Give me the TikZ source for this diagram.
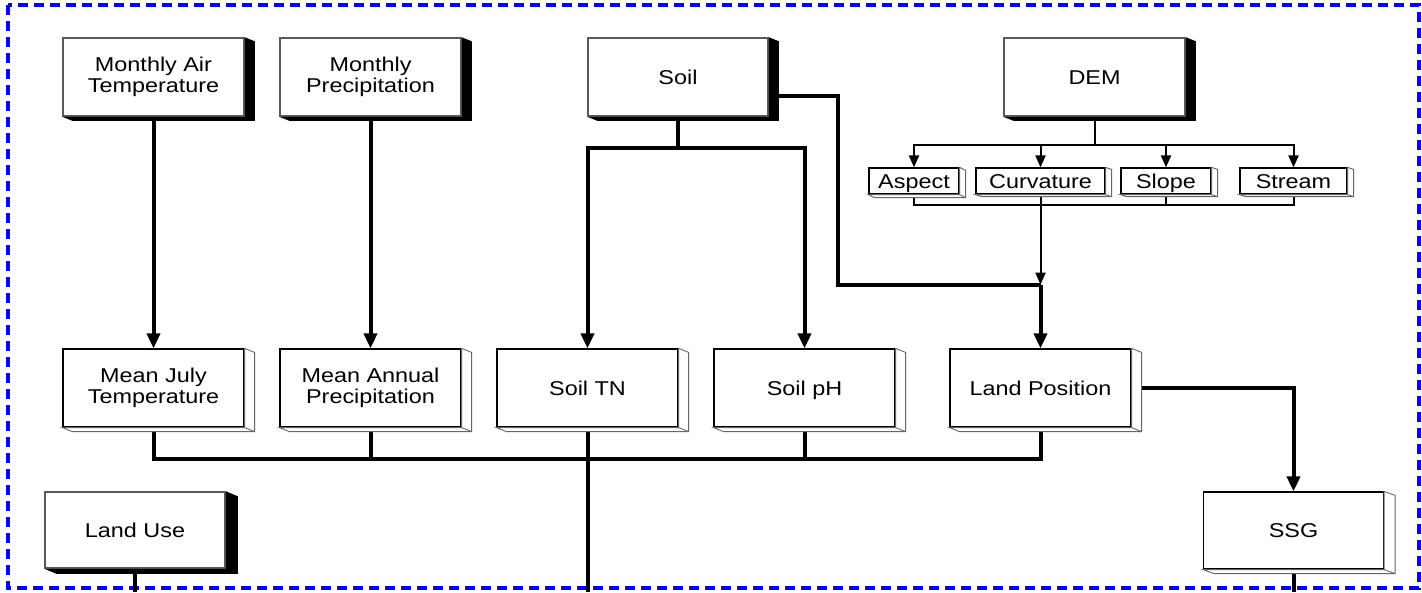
\documentclass[tikz,border=0pt]{standalone}
\usepackage{fontspec}
\setmainfont[FakeStretch=1.17]{Liberation Sans}
\usetikzlibrary{calc,arrows.meta}
\newcommand\blackext[3]{%
  \fill[black] (#1.north east) -- ++(#2,#3) -- ($(#1.south east)+(#2,#3)$) -- ($(#1.south west)+(#2,#3)$) -- (#1.south west) -- (#1.south east) -- cycle;}
\newcommand\whiteext[3]{%
  \filldraw[fill=white, draw=black!60, line width=0.9] (#1.north east) -- ++(#2,#3) -- ($(#1.south east)+(#2,#3)$) -- ($(#1.south west)+(#2,#3)$) -- (#1.south west) -- (#1.south east) -- cycle;
  \draw[black!60, line width=0.9] (#1.south east) -- ++(#2,#3);}
\tikzset{
  box/.style={draw=black, line width=1.2, fill=white, inner sep=0pt, align=center,
    minimum width=181pt, minimum height=78pt, font=\fontsize{20}{20.5}\selectfont},
  one/.style={text height=14.3pt, text depth=0pt},
  inbox/.style={box, draw=black!65, line width=1.5},
  smallbox/.style={box, one, minimum height=26pt},
  thk/.style={line width=4pt},
  thn/.style={line width=2pt},
  thkarrow/.style={thk, -{Triangle[width=13pt,length=15pt]}},
  thnarrow/.style={thn, -{Triangle[width=10pt,length=12pt]}},
  frame/.style={draw=blue, line width=3.5pt, dash pattern=on 10pt off 6pt}
}
\begin{document}
\begin{tikzpicture}[x=1pt,y=-1pt]
\useasboundingbox (0,0) rectangle (1422,592);
\fill[white] (0,0) rectangle (1422,592);
\draw[frame] (8,5) rectangle (1419,588);
% top row
\node[inbox] (mat) at (153.5,77) {Monthly Air\\Temperature};
\node[inbox] (mp) at (370.5,77) {Monthly\\Precipitation};
\node[inbox, one, minimum width=180pt] (soil) at (678,77) {Soil};
\node[inbox, one] (dem) at (1094.5,77) {DEM};
% DEM derivatives
\node[smallbox, minimum width=90pt] (aspect) at (914,181) {Aspect};
\node[smallbox, minimum width=129pt] (curv) at (1040.5,181) {Curvature};
\node[smallbox, minimum width=90pt] (slope) at (1166,181) {Slope};
\node[smallbox, minimum width=107pt] (stream) at (1293.5,181) {Stream};
% second row
\node[box] (mjt) at (153.5,388) {Mean July\\Temperature};
\node[box] (map) at (370.5,388) {Mean Annual\\Precipitation};
\node[box, one] (stn) at (587.5,388) {Soil TN};
\node[box, one] (sph) at (804.5,388) {Soil pH};
\node[box, one] (lp) at (1040.5,388) {Land Position};
% third row
\node[inbox, one, minimum width=180pt, minimum height=76pt] (lu) at (135,530) {Land Use};
\node[box, one, minimum width=180pt, minimum height=77pt] (ssg) at (1293.5,530.5) {SSG};
% coordinates
\coordinate (sj) at ($(soil.south)+(0,31)$);
\coordinate (dj) at ($(dem.south)+(0,28)$);
\coordinate (cj) at ($(curv.south)+(0,10)$);
\coordinate (lj) at ($(curv.south)+(0,90)$);
\coordinate (sr) at ($(soil.east)+(10,19)$);
\coordinate (bj) at ($(stn.south)+(0,31)$);
\coordinate (bottom) at (0,592);
% connectors
\draw[thkarrow] (mat.south) -- (mjt.north);
\draw[thkarrow] (mp.south) -- (map.north);
\draw[thk] (soil.south) -- (sj);
\draw[thkarrow] (sj) -| (stn.north);
\draw[thkarrow] (sj) -| (sph.north);
\draw[thn] (dem.south) -- (dj);
\draw[thnarrow] (dj) -| (aspect.north);
\draw[thnarrow] (dj) -| (curv.north);
\draw[thnarrow] (dj) -| (slope.north);
\draw[thnarrow] (dj) -| (stream.north);
\draw[thn] (aspect.south) |- (cj);
\draw[thn] (stream.south) |- (cj);
\draw[thn] (slope.south) -- (slope.south |- cj);
\draw[thnarrow] (curv.south) -- (lj);
\draw[thk] (sr) -- ($(sr)+(59,0)$) |- (lj);
\draw[thkarrow] (lj) -- (lp.north);
\draw[thk] (mjt.south) |- (lp.south |- bj) -- (lp.south);
\draw[thk] (map.south) -- (map.south |- bj);
\draw[thk] (sph.south) -- (sph.south |- bj);
\draw[thk] (stn.south) -- (stn.south |- bottom);
\draw[thkarrow] ($(lp.east)+(10,0)$) -| (ssg.north);
\draw[thk] (ssg.south) -- (ssg.south |- bottom);
\draw[thk] (lu.south) -- (lu.south |- bottom);
% extrusions
\blackext{mat}{10}{4}
\blackext{mp}{10}{4}
\blackext{soil}{10}{4}
\blackext{dem}{10}{4}
\blackext{lu}{12}{5}
\whiteext{aspect}{6}{3}
\whiteext{curv}{6}{2}
\whiteext{slope}{6}{2}
\whiteext{stream}{6}{2}
\whiteext{mjt}{10}{4}
\whiteext{map}{10}{4}
\whiteext{stn}{10}{4}
\whiteext{sph}{10}{4}
\whiteext{lp}{10}{4}
\whiteext{ssg}{11}{4}
\end{tikzpicture}
\end{document}
